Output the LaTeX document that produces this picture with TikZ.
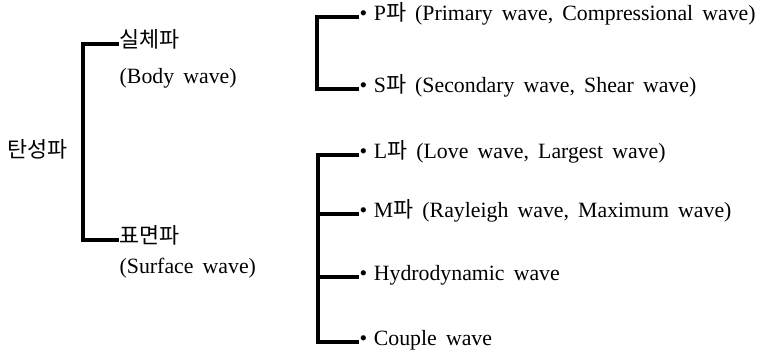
\documentclass[tikz,border=0pt]{standalone}
\usepackage{fontspec}
\setmainfont{Liberation Serif}
\newfontfamily\krfont{Noto Sans CJK KR}
\newcommand\krtxt[1]{{\krfont #1}}
\newcommand\lblfont{\fontsize{21.8}{26}\selectfont}
\newcommand\widesp{\spaceskip 0.42em plus 0.1em minus 0.1em\relax}
\newcommand\bul{\textbullet\hspace{0.3em}}
\begin{document}
\begin{tikzpicture}[x=1pt,y=-1pt,
  lbl/.style={anchor=west,inner xsep=2.5pt,inner ysep=0pt,
    font=\lblfont, execute at begin node=\widesp,
    text height=0.83em,text depth=0.17em},
  br/.style={line width=3.2pt,line join=miter,line cap=rect}]
\useasboundingbox (0,0) rectangle (760,354);
% root
\node[lbl] (root) at (5,154) {\krtxt{탄성파}};
% level 1
\node[lbl] (body) at (117,44) {\krtxt{실체파}};
\node[lbl] (bodyen) at (117,80) {(Body wave)};
\node[lbl] (surf) at (117,240) {\krtxt{표면파}};
\node[lbl] (surfen) at (117,270) {(Surface wave)};
\draw[br] (body.west) -- ++(-34,0) |- (surf.west);
% body waves
\node[lbl] (P) at (357,17) {\bul P\krtxt{파} (Primary wave, Compressional wave)};
\node[lbl] (S) at (357,89) {\bul S\krtxt{파} (Secondary wave, Shear wave)};
\draw[br] (P.west) -- ++(-40,0) |- (S.west);
% surface waves
\node[lbl] (L) at (357,155) {\bul L\krtxt{파} (Love wave, Largest wave)};
\node[lbl] (M) at (357,214) {\bul M\krtxt{파} (Rayleigh wave, Maximum wave)};
\node[lbl] (H) at (357,277) {\bul Hydrodynamic wave};
\node[lbl] (C) at (357,342) {\bul Couple wave};
\draw[br] (L.west) -- ++(-39,0) |- (C.west);
\draw[br] (M.west) -- ++(-39,0);
\draw[br] (H.west) -- ++(-39,0);
\end{tikzpicture}
\end{document}
